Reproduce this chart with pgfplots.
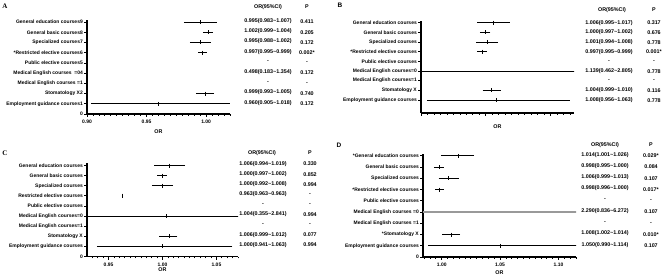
\documentclass[border=0pt]{standalone}
\usepackage{pgfplots}
\pgfplotsset{compat=1.18}
\usepackage{pgfplotstable}
\usepackage{fontspec}
\setmainfont{Liberation Sans}
\newfontfamily\serifbf{Liberation Serif}

\pgfplotstableread{
y est lo hi
9 0.995 0.983 1.007
8 1.002 0.999 1.004
7 0.995 0.988 1.002
6 0.997 0.995 0.999
2 0.999 0.993 1.005
1 0.960 0.905 1.018
}\dataA
\pgfplotstableread{
y est lo hi
9 1.006 0.995 1.017
8 1.000 0.997 1.002
7 1.001 0.994 1.008
6 0.997 0.995 0.999
4 1.139 0.462 2.805
2 1.004 0.999 1.010
1 1.008 0.956 1.063
}\dataB
\pgfplotstableread{
y est lo hi
9 1.006 0.994 1.019
8 1.000 0.997 1.002
7 1.000 0.992 1.008
6 0.963 0.963 0.963
4 1.004 0.355 2.841
2 1.006 0.999 1.012
1 1.000 0.941 1.063
}\dataC
\pgfplotstableread{
y est lo hi
9 1.014 1.001 1.026
8 0.998 0.995 1.000
7 1.006 0.999 1.013
6 0.998 0.996 1.000
2 1.008 1.002 1.014
1 1.050 0.990 1.114
}\dataD

\newcommand\tl{\textasciitilde}
\newcommand\fs{\bfseries\fontsize{5}{6}\selectfont}
\newcommand\fv{\bfseries\fontsize{5.4}{6}\selectfont}

\pgfplotsset{
  forest/.style={
    axis lines=left, axis line style={-, line width=1.1pt},
    scale only axis, clip=true, anchor=south west,
    tick align=outside, major tick length=3bp, minor tick length=1.8bp,
    every tick/.style={black, line width=0.8pt},
    ticklabel style={font=\fs},
    yticklabels={},
    /pgf/number format/assume math mode=true,
    xticklabel style={/pgf/number format/.cd, fixed, fixed zerofill, precision=2},
    xlabel={OR},
    x label style={font=\fv, at={(axis description cs:0.5,0)}, anchor=center},
  },
  ci/.style={black, only marks, mark=|, mark size=2bp, mark options={line width=0.7pt},
    error bars/.cd, x dir=both, x explicit,
    error bar style={line width=0.7pt, black},
    error mark options={mark size=2bp, line width=0.7pt}},
}

\begin{document}
\begin{tikzpicture}[x=1bp,y=1bp]
\useasboundingbox (0bp,0bp) rectangle (669bp,279bp);

% ---------------- A
\begin{axis}[forest, at={(87bp,165bp)}, width=143bp, height=94.5bp,
  xmin=0.90, xmax=1.02, ymin=0, ymax=9.25,
  xtick={0.90,0.95,1.00}, minor xtick={0.905,0.91,...,1.02},
  ytick={0,...,9},
  x label style={yshift=-17.5bp}]
\addplot[ci] table[x=est, y=y, x error plus expr=\thisrow{hi}-\thisrow{est}, x error minus expr=\thisrow{est}-\thisrow{lo}] {\dataA};
\end{axis}

% ---------------- B
\begin{axis}[forest, at={(421bp,166bp)}, width=153bp, height=92.3bp,
  xmin=0.95, xmax=1.068, ymin=-0.35, ymax=9.2,
  xtick={0.95,1.00,1.05}, xticklabels={}, minor xtick={0.955,0.96,...,1.066},
  ytick={1,...,9},
  x label style={yshift=-14bp}]
\addplot[ci] table[x=est, y=y, x error plus expr=\thisrow{hi}-\thisrow{est}, x error minus expr=\thisrow{est}-\thisrow{lo}] {\dataB};
\end{axis}

% ---------------- C
\begin{axis}[forest, at={(87bp,22.5bp)}, width=151bp, height=93bp,
  xmin=0.93, xmax=1.07, ymin=0, ymax=9.2,
  xtick={0.95,1.00,1.05}, minor xtick={0.935,0.94,...,1.07},
  ytick={0,...,9},
  x label style={yshift=-13bp}]
\addplot[ci] table[x=est, y=y, x error plus expr=\thisrow{hi}-\thisrow{est}, x error minus expr=\thisrow{est}-\thisrow{lo}] {\dataC};
\end{axis}

% ---------------- D
\begin{axis}[forest, at={(423bp,22bp)}, width=153bp, height=103.5bp,
  xmin=0.984, xmax=1.115, ymin=0, ymax=9.2,
  xtick={1.00,1.05,1.10}, minor xtick={0.985,0.99,...,1.115},
  ytick={0,...,9},
  x label style={yshift=-16bp}]
\addplot[gray!80, line width=1.6pt] coordinates {(0.836,4) (6.272,4)};
\addplot[ci] table[x=est, y=y, x error plus expr=\thisrow{hi}-\thisrow{est}, x error minus expr=\thisrow{est}-\thisrow{lo}] {\dataD};
\end{axis}

% ---------------- panel letters
\node[font=\serifbf\bfseries\fontsize{7}{8}\selectfont] at (5bp,273bp) {A};
\node[font=\bfseries\fontsize{6.5}{8}\selectfont] at (340bp,274bp) {B};
\node[font=\serifbf\bfseries\fontsize{7}{8}\selectfont] at (5bp,126bp) {C};
\node[font=\bfseries\fontsize{6.5}{8}\selectfont] at (339bp,134bp) {D};

% ---------------- category labels (y tick labels)
\begin{scope}[every node/.style={font=\fs, inner sep=0pt, anchor=east}]
\foreach \k/\t in {9/{General education courses9},8/{General basic courses8},7/{Specialized courses7},6/{*Restricted elective courses6},5/{Public elective courses5},4/{Medical English courses\ \ =04},3/{Medical English courses =1},2/{Stomatology X2},1/{Employment guidance courses1},0/{0}}{
  \node at (83bp,{(165+\k*10.22)*1bp}) {\t};
}
\foreach \k/\t in {9/{General education courses},8/{General basic courses},7/{Specialized courses},6/{*Restricted elective courses},5/{Public elective courses},4/{Medical English courses=0},3/{Medical English courses=1},2/{Stomatology X},1/{Employment guidance courses}}{
  \node at (417bp,{(166+(\k+0.35)*9.66)*1bp}) {\t};
}
\foreach \k/\t in {9/{General education courses},8/{General basic courses},7/{Specialized courses},6/{Restricted elective courses},5/{Public elective courses},4/{Medical English courses=0},3/{Medical English courses=1},2/{Stomatology X},1/{Employment guidance courses},0/{0}}{
  \node at (83bp,{(22.5+\k*10.1)*1bp}) {\t};
}
\foreach \k/\t in {9/{*General education courses},8/{General basic courses},7/{Specialized courses},6/{*Restricted elective courses},5/{Public elective courses},4/{Medical English courses =0},3/{Medical English courses =1},2/{*Stomatology X},1/{Employment guidance courses},0/{0}}{
  \node at (419bp,{(22+\k*11.25)*1bp}) {\t};
}
\end{scope}

% ---------------- text columns
\begin{scope}[every node/.style={font=\fv, inner sep=0pt}]
% A
\node at (268bp,272bp) {OR(95\%CI)}; \node at (307bp,272bp) {P};
\foreach \k/\o/\p in {9/{0.995(0.983\tl1.007)}/{0.411},8/{1.002(0.999\tl1.004)}/{0.205},7/{0.995(0.988\tl1.002)}/{0.172},6/{0.997(0.995\tl0.999)}/{0.002*},5/{-}/{-},4/{0.498(0.183\tl1.354)}/{0.172},3/{-}/{-},2/{0.999(0.993\tl1.005)}/{0.740},1/{0.960(0.905\tl1.018)}/{0.172}}{
  \node at (268bp,{(165+\k*10.22+1)*1bp}) {\o};
  \node at (307bp,{(165+\k*10.22)*1bp}) {\p};
}
% B
\node at (612bp,269bp) {OR(95\%CI)}; \node at (654bp,269bp) {P};
\foreach \k/\o/\p in {9/{1.006(0.995\tl1.017)}/{0.317},8/{1.000(0.997\tl1.002)}/{0.676},7/{1.001(0.994\tl1.008)}/{0.778},6/{0.997(0.995\tl0.999)}/{0.001*},5/{-}/{-},4/{1.139(0.462\tl2.805)}/{0.778},3/{-}/{-},2/{1.004(0.999\tl1.010)}/{0.116},1/{1.008(0.956\tl1.063)}/{0.778}}{
  \node at (609bp,{(166+\k*9.66+3.4)*1bp}) {\o};
  \node at (654bp,{(166+\k*9.66+3)*1bp}) {\p};
}
% C
\node at (262bp,126.3bp) {OR(95\%CI)}; \node at (310bp,126.3bp) {P};
\foreach \k/\o/\p in {9/{1.006(0.994\tl1.019)}/{0.330},8/{1.000(0.997\tl1.002)}/{0.852},7/{1.000(0.992\tl1.008)}/{0.994},6/{0.963(0.963\tl0.963)}/{-},5/{-}/{-},4/{1.004(0.355\tl2.841)}/{0.994},3/{-}/{-},2/{1.006(0.999\tl1.012)}/{0.077},1/{1.000(0.941\tl1.063)}/{0.994}}{
  \node at (263bp,{(22.5+\k*10.1+1.5)*1bp}) {\o};
  \node at (310bp,{(22.5+\k*10.1+1.5)*1bp}) {\p};
}
% D
\node at (605bp,134bp) {OR(95\%CI)}; \node at (651bp,134bp) {P};
\foreach \k/\o/\p in {9/{1.014(1.001\tl1.026)}/{0.029*},8/{0.998(0.995\tl1.000)}/{0.084},7/{1.006(0.999\tl1.013)}/{0.107},6/{0.998(0.996\tl1.000)}/{0.017*},5/{-}/{-},4/{2.290(0.836\tl6.272)}/{0.107},3/{-}/{-},2/{1.008(1.002\tl1.014)}/{0.010*},1/{1.050(0.990\tl1.114)}/{0.107}}{
  \node at (605bp,{(22+\k*11.25+1)*1bp}) {\o};
  \node at (651bp,{(22+\k*11.25)*1bp}) {\p};
}
\end{scope}
\end{tikzpicture}
\end{document}
